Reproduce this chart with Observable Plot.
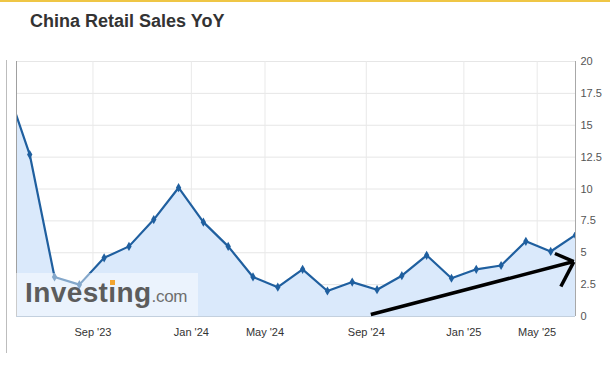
<!DOCTYPE html>
<html>
<head>
<meta charset="utf-8">
<script src="https://cdn.jsdelivr.net/npm/d3@7"></script>
<script src="https://cdn.jsdelivr.net/npm/@observablehq/plot@0.6"></script>
<style>
  body { margin: 0; background: #fff; }
  #wrap { position: relative; width: 610px; height: 368px; background: #fff; overflow: hidden; font-family: Arial, "Liberation Sans", sans-serif; }
  #topline { position: absolute; left: 0; top: 0; width: 610px; height: 2px; background: #efc645; }
  #title { position: absolute; left: 30px; top: 12px; font: bold 18px Arial, "Liberation Sans", sans-serif; line-height: 18px; color: #333; white-space: nowrap; }
  #border { position: absolute; left: 6px; top: 60px; width: 1px; height: 293px; background: #bdbdbd; }
  #chart { position: absolute; left: 0; top: 50px; }
  #logo { position: absolute; left: 16px; top: 273px; width: 182px; height: 43px; background: rgba(255,255,255,0.45); }
  #logo .txt { position: absolute; left: 9px; top: 6px; font: bold 28px Arial, "Liberation Sans", sans-serif; line-height: 28px; color: #5c5c5c; letter-spacing: 0.4px; white-space: nowrap; }
  #logo .com { font-weight: normal; font-size: 17px; color: #6e6e6e; letter-spacing: -0.3px; }
  #logo .idot { position: relative; }
  #logo .idot i { position: absolute; left: 2px; top: 3px; width: 5px; height: 5px; background: #f2a531; }
</style>
</head>
<body>
<div id="wrap">
  <div id="topline"></div>
  <div id="title">China Retail Sales YoY</div>
  <div id="border"></div>
  <div id="chart"></div>
  <div id="logo"><span class="txt">Invest<span class="idot">ı<i></i></span>ng<span class="com">.com</span></span></div>
</div>
<script>
// Release dates of each monthly print (x positions follow the release sequence)
const releaseDates = ["2023-05-16","2023-06-15","2023-07-17","2023-08-15","2023-09-15","2023-10-18","2023-11-15","2023-12-15","2024-01-17","2024-03-18","2024-04-16","2024-05-17","2024-06-17","2024-07-15","2024-08-15","2024-09-14","2024-10-18","2024-11-15","2024-12-16","2025-01-17","2025-03-17","2025-04-16","2025-05-19","2025-06-16"];
const salesYoY = [18.4,12.7,3.1,2.5,4.6,5.5,7.6,10.1,7.4,5.5,3.1,2.3,3.7,2.0,2.7,2.1,3.2,4.8,3.0,3.7,4.0,5.9,5.1,6.4];
const viewStart = "2023-05-30";

const xTickDates = ["2023-09-01","2024-01-01","2024-05-01","2024-09-01","2025-01-01","2025-05-01"];
const xTickLabels = ["Sep '23","Jan '24","May '24","Sep '24","Jan '25","May '25"];
const yTicks = [0,2.5,5,7.5,10,12.5,15,17.5,20];
const yTickLabels = ["0","2.5","5","7.5","10","12.5","15","17.5","20"];

// Hand-drawn trend arrow annotation (position in release sequence, value)
const arrowStartX = [14.75, 22.17, 22.41];
const arrowStartY = [0.16, 4.94, 2.35];
const arrowEndX = [22.93, 22.93, 22.93];
const arrowEndY = [4.31, 4.31, 4.28];

const parse = d3.utcParse("%Y-%m-%d");
const toIndex = d3.scaleUtc()
  .domain(releaseDates.map(parse))
  .range(releaseDates.map((d, i) => i));

const series = salesYoY.map((v, i) => ({i, v}));
const xTicks = xTickDates.map(d => toIndex(parse(d)));
const xMin = toIndex(parse(viewStart));
const xMax = releaseDates.length - 1;
const arrows = arrowStartX.map((x, k) => ({x1: x, y1: arrowStartY[k], x2: arrowEndX[k], y2: arrowEndY[k]}));

const chart = Plot.plot({
  width: 610,
  height: 318,
  marginTop: 11,
  marginBottom: 52,
  marginLeft: 16,
  marginRight: 35,
  style: {overflow: "hidden", background: "transparent", fontFamily: "Arial, 'Liberation Sans', sans-serif"},
  x: {domain: [xMin, xMax], axis: null},
  y: {domain: [0, 20], axis: null},
  marks: [
    Plot.ruleY(yTicks, {stroke: "#e6e6e6"}),
    Plot.ruleX(xTicks, {stroke: "#e9e9e9"}),
    Plot.areaY(series, {x: "i", y: "v", fill: "#dae9fb", clip: true}),
    Plot.lineY(series, {x: "i", y: "v", stroke: "#1f5f9f", strokeWidth: 2.2, clip: true}),
    Plot.dot(series, {x: "i", y: "v", symbol: "diamond", r: 2.8, fill: "#1f5f9f", clip: true}),
    Plot.ruleX([xMin], {stroke: "#a0a0a0"}),
    Plot.ruleX([xMax], {stroke: "#a8a8a8"}),
    Plot.ruleY([0], {stroke: "#c3d0de"}),
    Plot.link(arrows, {x1: "x1", y1: "y1", x2: "x2", y2: "y2", stroke: "#000", strokeWidth: 3.5, strokeLinecap: "butt"}),
    Plot.text(yTicks, {x: () => xMax, y: d => d, text: (d, i) => yTickLabels[i], dx: 5, textAnchor: "start", fill: "#555", fontSize: 11}),
    Plot.text(xTicks, {x: d => d, y: () => 0, text: (d, i) => xTickLabels[i], dy: 16, fill: "#333", fontSize: 11})
  ]
});
document.getElementById("chart").appendChild(chart);
</script>
</body>
</html>
